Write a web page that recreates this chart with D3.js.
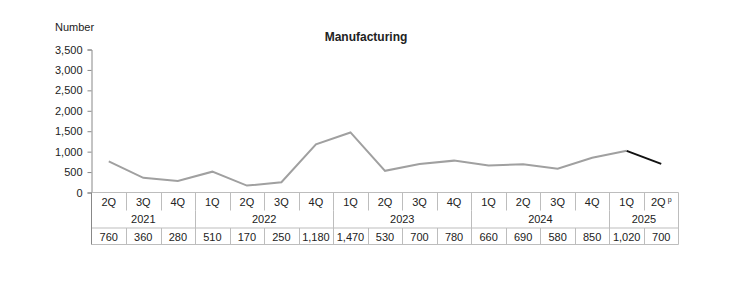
<!DOCTYPE html>
<html>
<head>
<meta charset="utf-8">
<script src="https://cdn.jsdelivr.net/npm/d3@7"></script>
<style>
  body { margin: 0; background: #fff; }
  text { font-family: "Liberation Sans", Arial, sans-serif; fill: #222; }
</style>
</head>
<body>
<script>
var quarters = ["2Q", "3Q", "4Q", "1Q", "2Q", "3Q", "4Q", "1Q", "2Q", "3Q", "4Q", "1Q", "2Q", "3Q", "4Q", "1Q", "2Q"];
var years = [{ label: "2021", n: 3 }, { label: "2022", n: 4 }, { label: "2023", n: 4 }, { label: "2024", n: 4 }, { label: "2025", n: 2 }];
var values = [760, 360, 280, 510, 170, 250, 1180, 1470, 530, 700, 780, 660, 690, 580, 850, 1020, 700];
var yTicks = [0, 500, 1000, 1500, 2000, 2500, 3000, 3500];

var width = 733, height = 299;
var plotLeft = 91.5, plotRight = 678.5, plotTop = 49.5, plotBottom = 192.5;
var rowH = [18, 17.5, 16.5];

var svg = d3.select("body").append("svg")
    .attr("width", width)
    .attr("height", height);

var x = d3.scaleBand()
    .domain(d3.range(values.length))
    .range([plotLeft, plotRight]);

var y = d3.scaleLinear()
    .domain([0, 3500])
    .range([plotBottom, plotTop]);

// title
svg.append("text")
    .attr("x", 366).attr("y", 41)
    .attr("text-anchor", "middle")
    .style("font-size", "12px").style("font-weight", "bold")
    .text("Manufacturing");

svg.append("text")
    .attr("x", 55).attr("y", 31)
    .style("font-size", "11px")
    .text("Number");

// y axis
var yAxis = d3.axisLeft(y)
    .tickValues(yTicks)
    .tickSize(4)
    .tickPadding(5)
    .tickFormat(d3.format(","));

var yg = svg.append("g")
    .attr("transform", "translate(" + plotLeft + ",0)")
    .call(yAxis);
yg.selectAll("path, line").attr("stroke", "#888");
yg.selectAll("text").style("font-size", "11px").style("font-family", "Liberation Sans, Arial, sans-serif").attr("fill", "#222");

// line
var pts = values.map(function (d, i) { return { v: d, i: i }; });
var lineXY = d3.line()
    .x(function (d) { return x(d.i) + x.bandwidth() / 2; })
    .y(function (d) { return y(d.v); });

svg.append("path")
    .attr("fill", "none")
    .attr("stroke", "#a0a0a0")
    .attr("stroke-width", 2)
    .attr("d", lineXY(pts.slice(0, values.length - 1)));

svg.append("path")
    .attr("fill", "none")
    .attr("stroke", "#111")
    .attr("stroke-width", 2)
    .attr("d", lineXY(pts.slice(values.length - 2)));

// table
var gridColor = "#bdbdbd";
var r1 = plotBottom, r2 = r1 + rowH[0], r3 = r2 + rowH[1], r4 = r3 + rowH[2];
var tbl = svg.append("g");

[r1, r3, r4].forEach(function (yy) {
    tbl.append("line")
        .attr("x1", plotLeft).attr("x2", plotRight)
        .attr("y1", yy).attr("y2", yy)
        .attr("stroke", gridColor);
});
[plotLeft, plotRight].forEach(function (xx) {
    tbl.append("line")
        .attr("x1", xx).attr("x2", xx)
        .attr("y1", r1).attr("y2", r4)
        .attr("stroke", xx === plotLeft ? "#888" : gridColor);
});
// quarter dividers (rows 1 and 3)
d3.range(1, values.length).forEach(function (i) {
    var xx = Math.round(x(i)) + 0.5;
    tbl.append("line").attr("x1", xx).attr("x2", xx).attr("y1", r1).attr("y2", r2).attr("stroke", gridColor);
    tbl.append("line").attr("x1", xx).attr("x2", xx).attr("y1", r3).attr("y2", r4).attr("stroke", gridColor);
});
// year row
var acc = 0;
years.forEach(function (yr, k) {
    var start = acc;
    acc += yr.n;
    if (k < years.length - 1) {
        var xx = Math.round(x(acc)) + 0.5;
        tbl.append("line").attr("x1", xx).attr("x2", xx).attr("y1", r2).attr("y2", r3).attr("stroke", gridColor);
    }
    var cx = (x(start) + (acc < values.length ? x(acc) : plotRight)) / 2;
    tbl.append("text")
        .attr("x", cx).attr("y", r2 + 12.5)
        .attr("text-anchor", "middle")
        .style("font-size", "11px")
        .text(yr.label);
});

quarters.forEach(function (q, i) {
    var t = tbl.append("text")
        .attr("x", x(i) + x.bandwidth() / 2)
        .attr("y", r1 + 13)
        .attr("text-anchor", "middle")
        .style("font-size", "11px")
        .text(q);
    if (i === quarters.length - 1) {
        t.append("tspan").attr("dy", -4).attr("dx", 2).style("font-size", "7px").text("p");
    }
});

values.forEach(function (v, i) {
    tbl.append("text")
        .attr("x", x(i) + x.bandwidth() / 2)
        .attr("y", r3 + 12.5)
        .attr("text-anchor", "middle")
        .style("font-size", "11px")
        .text(d3.format(",")(v));
});
</script>
</body>
</html>
